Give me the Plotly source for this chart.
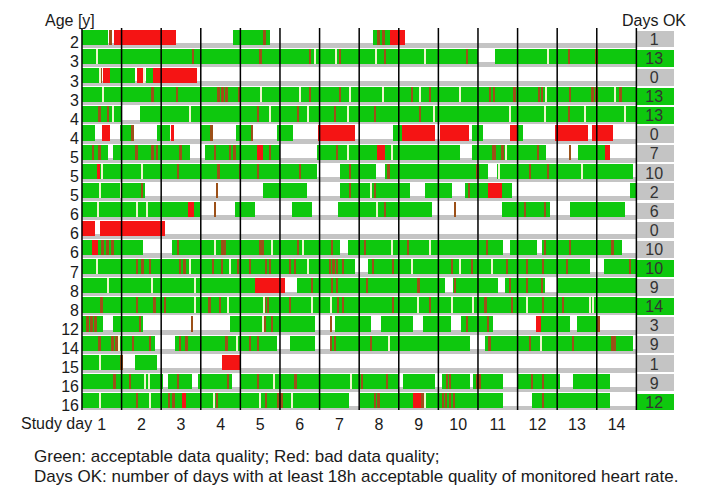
import plotly.graph_objects as go

# ---- data -------------------------------------------------------------
ages = [2, 3, 3, 3, 4, 4, 5, 5, 5, 6, 6, 6, 7, 8, 8, 12, 14, 15, 16, 16]
days_ok = [1, 13, 0, 13, 13, 0, 7, 10, 2, 6, 0, 10, 10, 9, 14, 3, 9, 1, 9, 12]
days_ok_green = [False, True, False, True, True, False, False, False, False, False,
                 False, False, True, False, True, False, False, False, False, True]
study_days = list(range(1, 15))

# acceptable-quality periods per patient, in study days (start, end)
green_spans = [
    [(0, 0.66), (3.82, 4.75), (7.35, 7.78)],
    [(0, 10.0), (10.44, 14)],
    [(0, 0.45), (0.71, 1.34), (1.62, 1.79)],
    [(0, 14)],
    [(0, 1.01), (1.47, 14)],
    [(0, 0.33), (0.96, 1.26), (1.90, 2.22), (2.98, 3.23), (3.89, 4.30), (4.93, 5.33),
     (7.86, 8.09), (9.86, 10.13), (11.02, 11.14)],
    [(0, 0.66), (0.78, 2.73), (3.11, 4.99), (5.94, 9.55), (9.86, 11.72), (12.53, 13.34)],
    [(0, 5.94), (6.52, 7.43), (7.66, 10.26), (10.49, 13.92)],
    [(0, 1.59), (4.57, 5.69), (6.52, 8.29), (8.67, 9.35), (9.68, 10.87), (13.85, 14)],
    [(0, 2.98), (3.87, 4.37), (5.31, 5.81), (6.47, 8.85), (10.61, 11.83), (12.33, 13.72)],
    [],
    [(0, 1.54), (2.27, 6.52), (6.72, 10.64), (10.82, 11.50), (11.62, 13.63)],
    [(0, 6.90), (7.23, 12.84), (13.18, 14)],
    [(0, 4.37), (5.43, 9.17), (9.38, 10.51), (10.69, 11.70), (12.0, 14)],
    [(0, 14)],
    [(0, 0.53), (0.78, 1.54), (3.74, 5.89), (6.39, 7.30), (7.55, 8.36), (8.62, 9.33),
     (9.58, 10.39), (11.57, 12.33), (12.51, 13.0)],
    [(0, 1.84), (2.35, 4.93), (5.26, 5.89), (6.27, 9.80), (10.18, 13.92)],
    [(0, 0.99), (1.34, 1.90)],
    [(0, 2.05), (2.17, 2.78), (2.93, 3.80), (3.99, 7.99), (8.11, 8.92), (9.10, 9.80),
     (9.88, 10.64), (11.02, 12.08), (12.41, 13.34)],
    [(0, 6.75), (7.03, 10.64), (11.37, 13.34)],
]

# bad-quality periods per patient (start, end)
red_spans = [
    [(0.81, 2.38), (7.78, 8.16)],
    [],
    [(0.53, 0.71), (1.39, 1.54), (1.79, 2.91)],
    [],
    [],
    [(0.51, 0.71), (2.24, 2.32), (5.96, 6.90), (8.09, 8.92), (9.05, 9.78), (10.82, 11.02),
     (11.95, 12.79), (12.89, 13.42)],
    [(4.42, 4.57), (7.46, 7.66), (13.22, 13.34)],
    [(0.38, 0.46)],
    [(10.26, 10.61)],
    [(2.68, 2.84)],
    [(0, 0.33), (0.45, 2.10)],
    [(0.25, 0.41)],
    [],
    [(4.37, 5.13)],
    [],
    [(11.47, 11.60)],
    [],
    [(3.54, 3.99)],
    [],
    [(2.53, 2.62), (8.37, 8.55)],
]

# short bad-quality episodes (time in study days)
bad_ticks = [
    [0.73, 4.62, 7.50, 7.62],
    [2.81, 4.52, 5.76, 6.52, 7.66, 9.73, 12.30, 13.00],
    [0.49],
    [1.79, 2.40, 3.45, 3.55, 3.65, 3.99, 5.76, 6.52, 8.34, 8.80, 10.31, 10.41, 10.93,
     11.55, 11.62, 12.33, 12.90, 13.00, 13.60],
    [0.45, 0.66, 4.45, 5.46, 6.39, 7.40, 8.54, 12.30],
    [1.28, 3.28, 4.30],
    [0.28, 0.45, 1.38, 1.79, 1.90, 2.50, 3.36, 3.74, 3.86, 4.75, 6.44, 10.38, 10.44,
     10.62, 11.52, 12.33],
    [2.43, 3.45, 4.00, 4.45, 5.51, 6.77, 7.75, 10.00, 11.32, 11.78],
    [1.52, 3.41, 6.77, 7.40, 9.78],
    [3.36, 7.66, 9.43, 11.20, 11.70],
    [],
    [0.53, 0.65, 0.78, 2.43, 3.55, 3.62, 4.52, 4.57, 5.46, 6.32, 7.15, 8.24, 10.24,
     11.70, 12.33, 13.40],
    [1.39, 1.54, 1.72, 2.48, 2.60, 3.31, 3.54, 3.95, 4.25, 4.65, 4.75, 5.26, 5.38, 6.27,
     6.36, 6.45, 6.60, 7.35, 7.86, 9.35, 9.86, 10.74, 11.25, 11.65, 12.26, 13.85],
    [5.81, 6.32, 6.45, 7.20, 8.50, 9.43, 10.82, 11.25, 11.62],
    [0.50, 1.39, 1.84, 2.10, 3.23, 3.49, 4.62, 4.70, 5.26, 6.47, 6.60, 7.86, 8.80,
     10.20, 10.87, 11.65, 12.15],
    [0.15, 0.25, 0.35, 1.47, 2.78, 4.62, 4.80, 6.30, 9.73, 10.26, 13.05],
    [0.45, 0.78, 0.88, 1.29, 1.72, 2.48, 2.65, 3.66, 4.25, 4.45, 6.30, 6.40, 7.30,
     10.30, 11.32, 12.40, 13.40, 13.45],
    [1.00],
    [0.83, 1.22, 2.43, 3.69, 4.45, 5.40, 7.08, 7.71, 9.22, 9.30, 9.98, 10.05, 11.37, 11.65],
    [1.39, 2.20, 2.32, 3.41, 4.65, 4.95, 5.05, 7.40, 7.50, 8.60, 9.12, 9.20, 9.30, 9.40,
     11.65],
]

# short signal dropouts (time in study days)
gap_ticks = [
    [],
    [0.38, 5.89, 6.42, 7.43, 8.67, 11.78],
    [0.46, 1.57],
    [0.53, 4.52, 5.51, 6.77, 7.61, 8.54, 9.55, 11.72, 13.47],
    [0.78, 2.73, 4.75, 5.71, 6.72, 8.90, 10.82, 11.70, 12.71, 13.72],
    [],
    [6.72, 7.84, 10.70],
    [0.51, 1.52, 10.54, 12.64],
    [0.45, 0.98, 7.30],
    [0.40, 1.39, 1.64, 7.46],
    [],
    [3.36, 4.80, 5.58, 7.83, 8.79],
    [0.38, 2.73, 3.74, 5.71, 8.34, 9.55, 10.36],
    [0.66, 1.77, 2.86],
    [2.86, 3.69, 4.60, 5.81, 6.30, 8.49, 9.35, 9.88, 11.25, 12.84, 12.90],
    [4.57],
    [0.93, 3.92, 7.75, 11.60],
    [0.45],
    [1.59, 1.70, 4.85, 6.80],
    [0.45, 1.72, 3.33, 4.50, 5.30, 8.66],
]

# ---- styling ------------------------------------------------------------
GREEN = "#0ec80e"
RED = "#f51414"
BROWN = "#9c5018"
GAP = "#eef6cc"
GRAY = "#c4c4c4"
FONT = "Arial, Liberation Sans, sans-serif"
TEXT = "#1a1a1a"
N = len(ages)
N_DAYS = len(study_days)


def span_bar(rows, color, width, offset=0.0):
    ys, base, length = [], [], []
    for i, spans in enumerate(rows):
        for s, e in spans:
            ys.append(i + offset)
            base.append(s)
            length.append(e - s)
    return go.Bar(orientation="h", y=ys, base=base, x=length, width=width,
                  marker=dict(color=color, line=dict(width=0)),
                  hoverinfo="skip", showlegend=False)


def tick_bar(rows, color, tick_w):
    spans = [[(t - tick_w / 2, t + tick_w / 2) for t in r] for r in rows]
    return span_bar(spans, color, 0.8)


fig = go.Figure()

# thin gray baseline under every patient row
fig.add_trace(span_bar([[(0, N_DAYS)] for _ in range(N)], GRAY, 0.25, offset=0.425))
fig.add_trace(span_bar(green_spans, GREEN, 0.8))
fig.add_trace(span_bar(red_spans, RED, 0.8))
fig.add_trace(tick_bar(bad_ticks, BROWN, 0.05))
fig.add_trace(tick_bar(gap_ticks, GAP, 0.035))

# "Days OK" column
fig.add_trace(go.Bar(
    orientation="h", y=[i + 0.08 for i in range(N)], base=[N_DAYS] * N, x=[0.94] * N,
    width=0.88, marker=dict(color=[GREEN if g else GRAY for g in days_ok_green],
                            line=dict(width=0)),
    hoverinfo="skip", showlegend=False))
fig.add_trace(go.Scatter(
    x=[N_DAYS + 0.45] * N, y=[i + 0.17 for i in range(N)], mode="text",
    text=[str(v) for v in days_ok], textfont=dict(family=FONT, size=16, color="#333333"),
    hoverinfo="skip", showlegend=False, cliponaxis=False))

# day separators
lx, ly = [], []
for d in range(N_DAYS + 1):
    lx += [d, d, None]
    ly += [-0.5, N - 0.5, None]
fig.add_trace(go.Scatter(x=lx, y=ly, mode="lines", line=dict(color="black", width=1.5),
                         hoverinfo="skip", showlegend=False))

PX_DAY = 39.6
L = 82 - 0.05 * PX_DAY
PLOT_W = 15 * PX_DAY
T = 28.45
PLOT_H = 382

fig.update_layout(
    width=702, height=488,
    margin=dict(l=L, r=702 - L - PLOT_W, t=T, b=488 - T - PLOT_H, pad=0),
    paper_bgcolor="white", plot_bgcolor="white",
    barmode="overlay", bargap=0,
    font=dict(family=FONT, color=TEXT),
    xaxis=dict(range=[-0.05, 14.95], showgrid=False, zeroline=False, showline=False,
               tickvals=[d - 0.5 for d in study_days], ticktext=[str(d) for d in study_days],
               ticks="", ticklabelstandoff=3, tickfont=dict(size=16, color=TEXT),
               fixedrange=True),
    yaxis=dict(range=[N - 0.5, -0.5], showgrid=False, zeroline=False, showline=False,
               tickvals=[i + 0.27 for i in range(N)], ticktext=[str(a) for a in ages],
               ticks="", tickfont=dict(size=16, color=TEXT), fixedrange=True),
)


def px_x(x):
    return (x - L) / PLOT_W


def px_y(y):
    return (T + PLOT_H - y) / PLOT_H


notes = [
    ("Age [y]", 43, 21, "left", 16),
    ("Days OK", 654, 21, "center", 16),
    ("Study day", 94, 424, "right", 16),
    ("Green: acceptable data quality; Red: bad data quality;", 32, 457, "left", 17),
    ("Days OK: number of days with at least 18h acceptable quality of monitored heart rate.",
     32, 477, "left", 17),
]
for text, x, y, anchor, size in notes:
    fig.add_annotation(text=text, x=px_x(x), y=px_y(y), xref="paper", yref="paper",
                       xanchor=anchor, yanchor="middle", showarrow=False,
                       font=dict(family=FONT, size=size, color=TEXT))

fig.write_html("out.html")
